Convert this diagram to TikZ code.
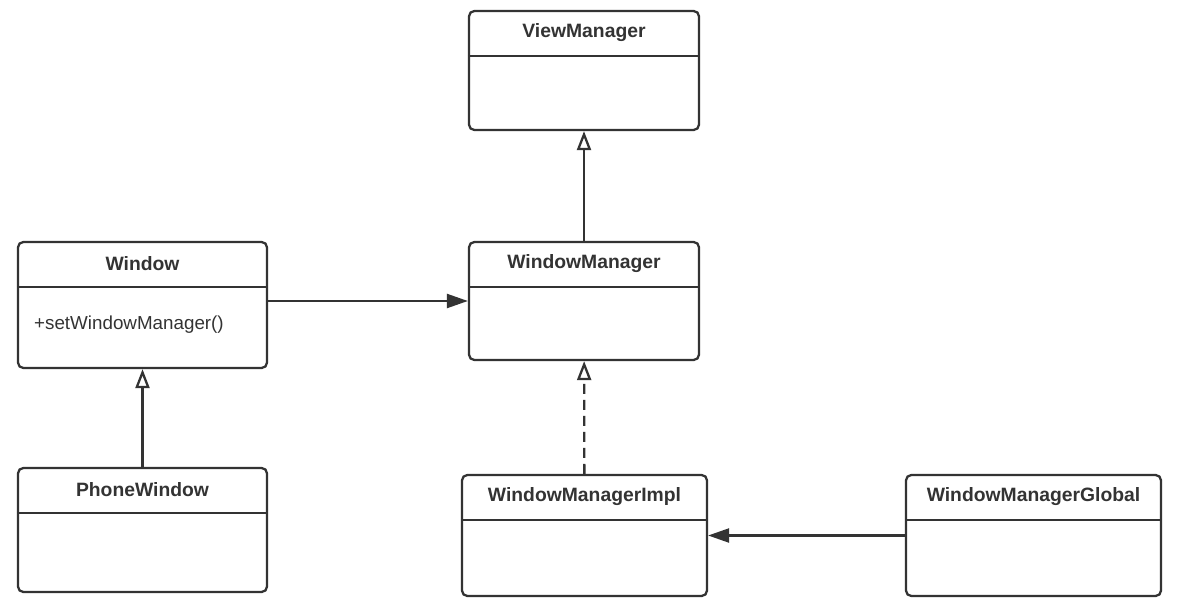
\documentclass[tikz,border=0pt]{standalone}
\usepackage{fontspec}
\setmainfont{Liberation Sans}
\usepackage{xcolor}
\usetikzlibrary{calc,positioning,arrows.meta}

\definecolor{umlgray}{HTML}{333333}

\begin{document}
\begin{tikzpicture}[x=0.02cm, y=-0.02cm,
  line width=1.3pt, draw=umlgray, text=umlgray,
  cls/.style={draw, rounded corners=3pt, inner sep=0pt},
  title/.style={anchor=north, minimum height=0.88cm, inner sep=0pt,
                font=\fontsize{11}{12}\selectfont\bfseries},
  inherit/.style={-{Triangle[open, length=0.38cm, width=0.28cm]}},
  assoc/.style={-{Triangle[length=0.42cm, width=0.28cm]}},
  realize/.style={inherit, dash pattern=on 0.2cm off 0.12cm}]
\useasboundingbox (0,0) rectangle (1186,611);

% classes
\node[cls, minimum width=4.6cm, minimum height=2.38cm] (vm) at (584,70.5) {};
\node[title] (vmt) at (vm.north) {ViewManager};
\draw (vmt.south -| vm.west) -- (vmt.south -| vm.east);

\node[cls, minimum width=4.98cm, minimum height=2.52cm] (win) at (142.5,305) {};
\node[title] (wint) at (win.north) {Window};
\draw (wint.south -| win.west) -- (wint.south -| win.east);
\node[anchor=west, inner sep=0pt, font=\fontsize{10.7}{12}\selectfont] (winop)
  at (33,325) {+setWindowManager()};

\node[cls, minimum width=4.6cm, minimum height=2.36cm] (wm) at (584,301) {};
\node[title] (wmt) at (wm.north) {WindowManager};
\draw (wmt.south -| wm.west) -- (wmt.south -| wm.east);

\node[cls, minimum width=4.98cm, minimum height=2.48cm] (pw) at (142.5,530) {};
\node[title] (pwt) at (pw.north) {PhoneWindow};
\draw (pwt.south -| pw.west) -- (pwt.south -| pw.east);

\node[cls, minimum width=4.9cm, minimum height=2.42cm] (wmi) at (584.5,535.5) {};
\node[title] (wmit) at (wmi.north) {WindowManagerImpl};
\draw (wmit.south -| wmi.west) -- (wmit.south -| wmi.east);

\node[cls, minimum width=5.1cm, minimum height=2.42cm] (wmg) at (1033.5,535.5) {};
\node[title] (wmgt) at (wmg.north) {WindowManagerGlobal};
\draw (wmgt.south -| wmg.west) -- (wmgt.south -| wmg.east);

% relations
\draw[inherit] (wm) -- (vm);
\draw[inherit] (pw) -- (win);
\draw[realize] (wmi) -- (wm);
\draw[assoc] (win.east |- wm.west) -- (wm.west);
\draw[assoc] (wmg) -- (wmi);
\end{tikzpicture}
\end{document}
